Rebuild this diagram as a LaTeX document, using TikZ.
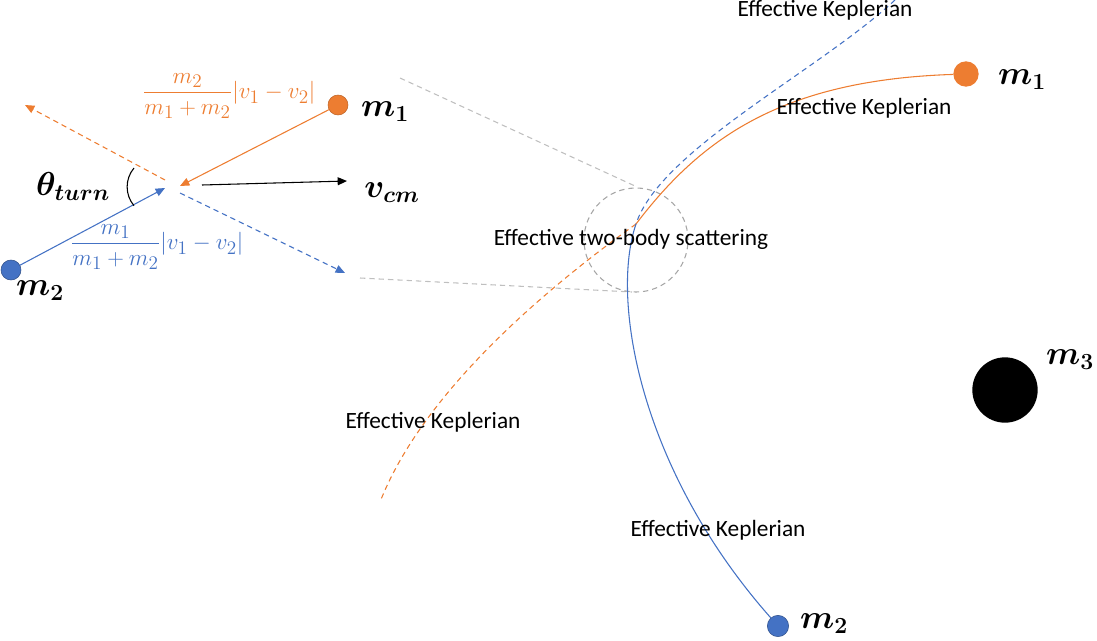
\documentclass[tikz,border=0pt]{standalone}
\usepackage{fontspec}
\setmainfont{Carlito}
\usepackage{amsmath}
\usetikzlibrary{arrows.meta}
\definecolor{orn}{HTML}{ED7D31}
\definecolor{blu}{HTML}{4472C4}
\begin{document}
\begin{tikzpicture}[x=0.75pt,y=-0.75pt,
  tip/.style={-{Triangle[length=7pt,width=6pt]}},
  dsh/.style={dash pattern=on 4pt off 3pt},
  lbl/.style={font=\fontsize{17.5}{20}\selectfont},
  big/.style={font=\fontsize{26}{30}\selectfont}]
\useasboundingbox (0,0) rectangle (1097,640);
% left panel
\node[circle,fill=orn,draw=orn!80!black,minimum size=15pt,inner sep=0] (m1) at (338,105) {};
\node[big] (m1l) at (385,112) {$\boldsymbol{m_1}$};
\coordinate (c1) at (180,186);
\draw[orn,thick,tip] (m1) -- (c1);
\coordinate (o1) at (165,180); \coordinate (o2) at (25,105);
\draw[orn,thick,dsh,tip] (o1) -- (o2);
\node[circle,fill=blu,draw=blu!70!black,minimum size=15pt,inner sep=0] (m2) at (11,270) {};
\node[big] (m2l) at (40,291) {$\boldsymbol{m_2}$};
\coordinate (c2) at (165,188);
\draw[blu,thick,tip] (m2) -- (c2);
\coordinate (b1) at (180,193); \coordinate (b2) at (345,273);
\draw[blu,thick,dsh,tip] (b1) -- (b2);
\coordinate (v1) at (202,185); \coordinate (v2) at (347,181);
\draw[thick,tip] (v1) -- (v2);
\node[big] (vcm) at (392,193) {$\boldsymbol{v_{cm}}$};
\node[big] (th) at (73,186) {$\boldsymbol{\theta_{turn}}$};
\draw[thick] (134,168) arc[start angle=140,end angle=220,radius=22pt];
\node[orn,font=\fontsize{19}{22}\selectfont] (f1) at (229,96) {$\dfrac{m_2}{m_1+m_2}|v_1-v_2|$};
\node[blu,font=\fontsize{19}{22}\selectfont] (f2) at (157,247) {$\dfrac{m_1}{m_1+m_2}|v_1-v_2|$};
% gray zoom lines
\coordinate (g1) at (400,78); \coordinate (g2) at (635,186);
\coordinate (g3) at (360,278); \coordinate (g4) at (632,292);
\draw[gray!50,thick,dsh] (g1) -- (g2);
\draw[gray!50,thick,dsh] (g3) -- (g4);
\node[circle,draw=gray!70,thick,dsh,minimum size=78pt,inner sep=0] (sc) at (636,240) {};
% right panel
\node[circle,fill=orn,minimum size=19pt,inner sep=0] (M1) at (966,74) {};
\node[big] (M1l) at (1022,80) {$\boldsymbol{m_1}$};
\node[circle,fill=blu,draw=blu!70!black,minimum size=16pt,inner sep=0] (M2) at (778,626) {};
\node[big] (M2l) at (824,624) {$\boldsymbol{m_2}$};
\node[circle,fill=black,minimum size=49pt,inner sep=0] (M3) at (1005,390) {};
\node[big] (M3l) at (1070,360) {$\boldsymbol{m_3}$};
\coordinate (X) at (636,224);
\draw[orn,thick] (M1) .. controls (780,80) and (700,140) .. (X);
\coordinate (oe) at (380,502);
\draw[orn,thick,dsh] (X) .. controls (530,300) and (420,400) .. (oe);
\coordinate (be) at (895,0);
\draw[blu,thick,dsh] (be) .. controls (820,70) and (660,150) .. (X);
\draw[blu,thick] (X) .. controls (610,300) and (640,470) .. (M2);
\node[lbl] (k1) at (825,10) {Effective Keplerian};
\node[lbl] (k2) at (864,108) {Effective Keplerian};
\node[lbl] (k3) at (433,422) {Effective Keplerian};
\node[lbl] (k4) at (718,530) {Effective Keplerian};
\node[lbl] (ts) at (631,239) {Effective two-body scattering};
\end{tikzpicture}
\end{document}
